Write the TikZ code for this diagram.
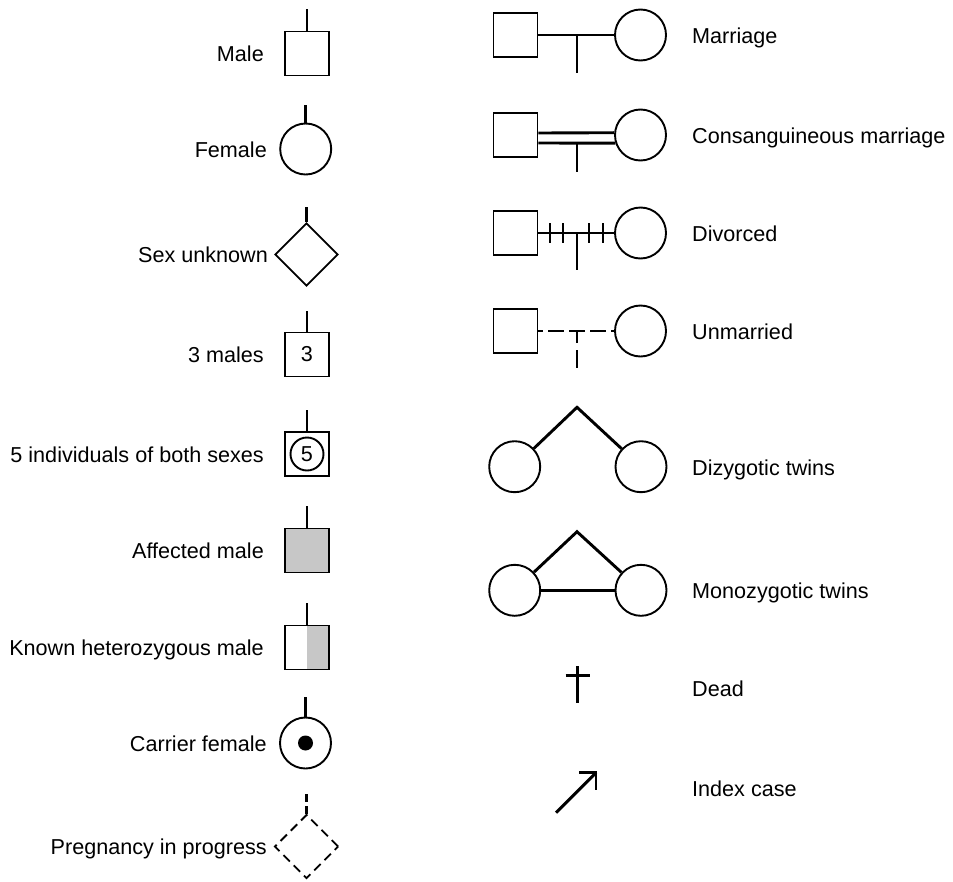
\documentclass[tikz,border=0pt]{standalone}
\usepackage{fontspec}
\setmainfont{Liberation Sans}
\usetikzlibrary{shapes.geometric}
\definecolor{affgray}{gray}{0.78}
\begin{document}
\begin{tikzpicture}[x=1pt,y=-1pt,
  txt/.style={font=\fontsize{21.6pt}{26pt}\selectfont, inner sep=0pt},
  lbl/.style={txt, anchor=base east},
  rlbl/.style={txt, anchor=base west},
  sym/.style={draw, line width=1.9pt, fill=white, inner sep=0pt, txt},
  sq/.style={sym, rectangle, minimum size=44pt},
  circ/.style={sym, circle, minimum size=51pt},
  diam/.style={sym, diamond, minimum width=63pt, minimum height=63pt},
  stalk/.style={line width=2.9pt},
  link/.style={line width=2.9pt},
  tick/.style={line width=2.1pt}
]
\useasboundingbox (0,0) rectangle (953,881);

% ---------- individual symbols ----------
\node[sq] (male) at (307,53.5) {};
\coordinate (maletop) at (307,9);
\draw[stalk] (male) -- (maletop);
\node[lbl] (malelbl) at (264,61.5) {Male};

\node[circ] (female) at (305.7,149) {};
\coordinate (femaletop) at (305.7,105);
\draw[stalk] (female) -- (femaletop);
\node[lbl] (femalelbl) at (267,157) {Female};

\node[diam] (unknown) at (306.5,254.5) {};
\coordinate (unknowntop) at (306.5,207);
\draw[stalk] (unknown) -- (unknowntop);
\node[lbl] (unknownlbl) at (268,262.5) {Sex unknown};

\node[sq] (three) at (307,354.5) {3};
\coordinate (threetop) at (307,311);
\draw[stalk] (three) -- (threetop);
\node[lbl] (threelbl) at (264,362.5) {3 males};

\node[sq] (five) at (307,454) {};
\node[sym, circle, minimum size=33pt] (fivein) at (five.center) {5};
\coordinate (fivetop) at (307,410);
\draw[stalk] (five) -- (fivetop);
\node[lbl] (fivelbl) at (264,462) {5 individuals of both sexes};

\node[sq, fill=affgray] (affected) at (307,550.5) {};
\coordinate (affectedtop) at (307,506);
\draw[stalk] (affected) -- (affectedtop);
\node[lbl] (affectedlbl) at (264,558.5) {Affected male};

\node[sq, path picture={\fill[affgray] (path picture bounding box.north)
      rectangle (path picture bounding box.south east);}] (hetero) at (307,647.5) {};
\coordinate (heterotop) at (307,603);
\draw[stalk] (hetero) -- (heterotop);
\node[lbl] (heterolbl) at (264,655.5) {Known heterozygous male};

\node[circ] (carrier) at (305.5,743) {};
\fill (carrier.center) circle[radius=7.5pt];
\coordinate (carriertop) at (305.5,697);
\draw[stalk] (carrier) -- (carriertop);
\node[lbl] (carrierlbl) at (267,751) {Carrier female};

\node[diam, dash pattern=on 9pt off 5.5pt, minimum width=64pt, minimum height=64pt] (pregnant) at (306.5,846.5) {};
\coordinate (pregnanttop) at (306.5,794);
\draw[stalk, dash pattern=on 8pt off 4pt] (pregnant) -- (pregnanttop);
\node[lbl] (pregnantlbl) at (267,854.5) {Pregnancy in progress};

% ---------- relationships ----------
% marriage
\node[sq] (mh) at (515.5,35) {};
\node[circ] (mw) at (640.5,35) {};
\draw[link] (mh) -- (mw);
\coordinate (mj) at (577,35);
\coordinate (md) at (577,73);
\draw[link] (mj) -- (md);
\node[rlbl] (mlbl) at (692,43) {Marriage};

% consanguineous marriage
\node[sq] (ch) at (515.5,135) {};
\node[circ] (cw) at (640.5,135) {};
\draw[link] ([yshift=2pt]ch.east) -- (cw.175.5);
\draw[link] ([yshift=-8pt]ch.east) -- (cw.198.3);
\coordinate (cj) at (577,143);
\coordinate (cd) at (577,172);
\draw[link] (cj) -- (cd);
\node[rlbl] (clbl) at (692,143.5) {Consanguineous marriage};

% divorced
\node[sq] (dh) at (515.5,233) {};
\node[circ] (dw) at (640.5,233) {};
\draw[link] (dh) -- (dw);
\foreach \tx [count=\i] in {550,563.3,589.3,603.3}{
  \coordinate (dt\i a) at (\tx,223);
  \coordinate (dt\i b) at (\tx,243);
  \draw[tick] (dt\i a) -- (dt\i b);
}
\coordinate (dj) at (577,233);
\coordinate (dd) at (577,270);
\draw[link] (dj) -- (dd);
\node[rlbl] (dlbl) at (692,241) {Divorced};

% unmarried
\node[sq] (uh) at (515.5,331) {};
\node[circ] (uw) at (640.5,331) {};
\draw[link, dash pattern=on 16pt off 5pt, dash phase=11pt] (uh) -- (uw);
\coordinate (uj) at (577,331);
\coordinate (ud) at (577,368);
\draw[link, dash pattern=on 12pt off 7pt on 18pt off 7pt] (uj) -- (ud);
\node[rlbl] (ulbl) at (692,339) {Unmarried};

% dizygotic twins
\node[circ] (dz1) at (514.7,466.7) {};
\node[circ] (dz2) at (641,466.7) {};
\coordinate (dzapex) at (577,407.3);
\draw[link, line join=miter] (dz1) -- (dzapex) -- (dz2);
\node[rlbl] (dzlbl) at (692,475) {Dizygotic twins};

% monozygotic twins
\node[circ] (mz1) at (514.7,590.3) {};
\node[circ] (mz2) at (641,590.3) {};
\coordinate (mzapex) at (577,531.7);
\draw[link, line join=miter] (mz1) -- (mzapex) -- (mz2);
\draw[link] (mz1) -- (mz2);
\node[rlbl] (mzlbl) at (692,598) {Monozygotic twins};

% dead
\coordinate (deadtop) at (577.7,666);
\coordinate (deadbot) at (577.7,703.3);
\coordinate (deadl) at (565.7,675.3);
\coordinate (deadr) at (589.5,675.3);
\draw[link] (deadtop) -- (deadbot);
\draw[link] (deadl) -- (deadr);
\node[rlbl] (deadlbl) at (692,696) {Dead};

% index case
\coordinate (idxtail) at (556,812.7);
\coordinate (idxtip) at (596,772.7);
\draw[link] (idxtail) -- (idxtip);
\draw[link, line join=miter] (idxtip) ++(-17,0) -- (idxtip) -- ++(0,17);
\node[rlbl] (idxlbl) at (692,796) {Index case};
\end{tikzpicture}
\end{document}
